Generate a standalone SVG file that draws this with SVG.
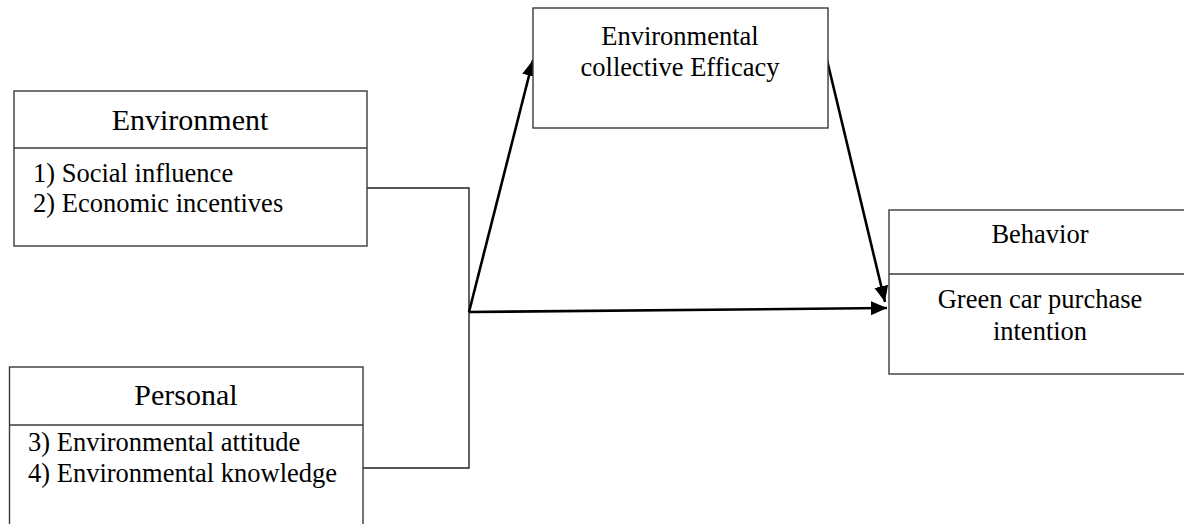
<svg xmlns="http://www.w3.org/2000/svg" width="1184" height="524" viewBox="0 0 1184 524">
<style>
.box{fill:#fff;stroke:#3a3a3a;stroke-width:1.4}
.div{stroke:#3a3a3a;stroke-width:1.4}
.t{font-family:"Liberation Serif","Times New Roman",serif;font-size:26.5px;fill:#000}
.h{font-family:"Liberation Serif","Times New Roman",serif;font-size:30px;fill:#000}
.m{text-anchor:middle}
.thin{fill:none;stroke:#222;stroke-width:1.4}
.arr{fill:none;stroke:#000;stroke-width:2.6;marker-end:url(#ah)}
</style>
<defs>
<marker id="ah" markerUnits="userSpaceOnUse" markerWidth="18" markerHeight="16" refX="16" refY="7" orient="auto">
<path d="M0,0 L16,7 L0,14 z" fill="#000"/>
</marker>
</defs>
<rect width="1184" height="524" fill="#fff"/>
<g id="connectors">
<polyline class="thin" points="367,188 469,188 469,468 363,468"/>
<line class="arr" x1="469" y1="312" x2="533" y2="60"/>
<line class="arr" x1="469" y1="312" x2="887" y2="308"/>
<line class="arr" x1="827" y1="60" x2="885" y2="302"/>
</g>
<g id="environment">
<rect class="box" x="14" y="91" width="353" height="155"/>
<line class="div" x1="14" y1="148" x2="367" y2="148"/>
<text class="h m" x="190" y="130">Environment</text>
<text class="t" x="33" y="182">1) Social influence</text>
<text class="t" x="33" y="212">2) Economic incentives</text>
</g>
<g id="personal">
<rect class="box" x="9.5" y="367" width="353.5" height="170"/>
<line class="div" x1="9.5" y1="425" x2="363" y2="425"/>
<text class="h m" x="186" y="405">Personal</text>
<text class="t" x="28" y="451">3) Environmental attitude</text>
<text class="t" x="28" y="482">4) Environmental knowledge</text>
</g>
<g id="efficacy">
<rect class="box" x="533" y="8" width="295" height="120"/>
<text class="t m" x="680" y="45">Environmental</text>
<text class="t m" x="680" y="76">collective Efficacy</text>
</g>
<g id="behavior">
<rect class="box" x="889" y="210" width="302" height="164"/>
<line class="div" x1="889" y1="274" x2="1191" y2="274"/>
<text class="t m" x="1040" y="243">Behavior</text>
<text class="t m" x="1040" y="308">Green car purchase</text>
<text class="t m" x="1040" y="340">intention</text>
</g>
</svg>
